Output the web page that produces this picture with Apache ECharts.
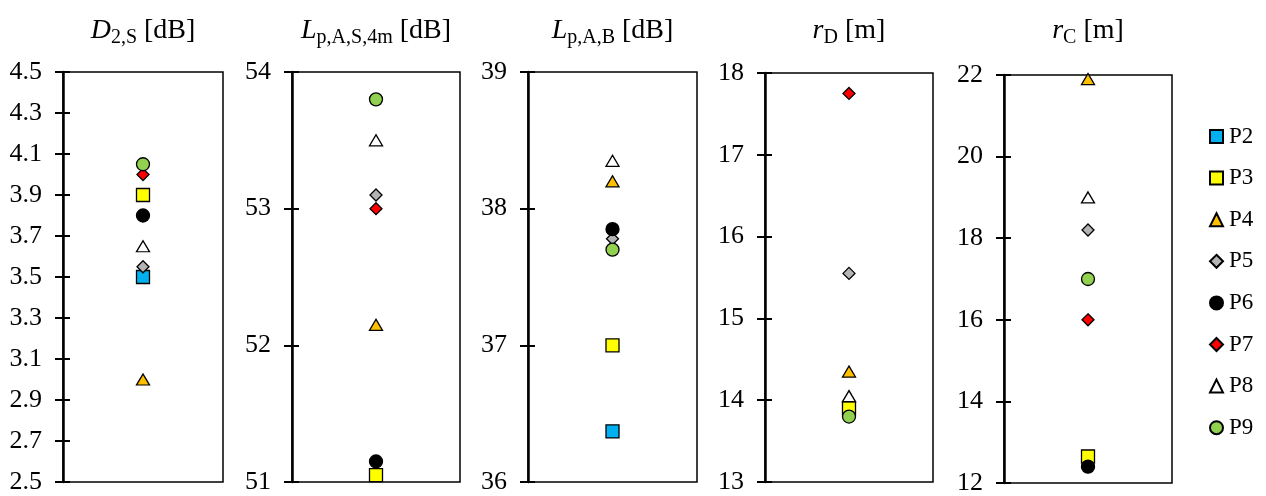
<!DOCTYPE html>
<html>
<head>
<meta charset="utf-8">
<script src="https://cdn.jsdelivr.net/npm/echarts@6/dist/echarts.min.js"></script>
<style>
  html, body { margin: 0; padding: 0; background: #fff; }
  #chart { width: 1266px; height: 496px; }
</style>
</head>
<body>
<div id="chart"></div>
<script>
// measurement points
const names = ['P2', 'P3', 'P4', 'P5', 'P6', 'P7', 'P8', 'P9'];

// one value per point, null = not shown in the panel
const d2s = [3.5, 3.9, 3.0, 3.55, 3.8, 4.0, 3.65, 4.05];
const lpAS4m = [null, 51.05, 52.15, 53.1, 51.15, 53.0, 53.5, 53.8];
const lpAB = [36.37, 37.0, 38.2, 37.78, 37.85, null, 38.35, 37.7];
const rD = [null, 13.9, 14.35, 15.55, null, 17.75, 14.05, 13.8];
const rC = [null, 12.65, 21.9, 18.2, 12.4, 16.0, 19.0, 17.0];

// tick labels per panel
const d2sTicks = [2.5, 2.7, 2.9, 3.1, 3.3, 3.5, 3.7, 3.9, 4.1, 4.3, 4.5];
const lpAS4mTicks = [51, 52, 53, 54];
const lpABTicks = [36, 37, 38, 39];
const rDTicks = [13, 14, 15, 16, 17, 18];
const rCTicks = [12, 14, 16, 18, 20, 22];

const serif = '"Liberation Serif", "DejaVu Serif", serif';

const markers = [
  { symbol: 'rect', color: '#00B0F0' },
  { symbol: 'rect', color: '#FFFF00' },
  { symbol: 'triangle', color: '#FFC000' },
  { symbol: 'diamond', color: '#B4B4B4' },
  { symbol: 'circle', color: '#000000' },
  { symbol: 'diamond', color: '#FF0000' },
  { symbol: 'triangle', color: '#FFFFFF' },
  { symbol: 'circle', color: '#92D050' }
];

const panels = [
  { values: d2s, ticks: d2sTicks, digits: 1, main: 'D', sub: '2,S', unit: ' [dB]',
    left: 63, top: 72, width: 160, height: 410 },
  { values: lpAS4m, ticks: lpAS4mTicks, digits: 0, main: 'L', sub: 'p,A,S,4m', unit: ' [dB]',
    left: 292, top: 72, width: 168, height: 410 },
  { values: lpAB, ticks: lpABTicks, digits: 0, main: 'L', sub: 'p,A,B', unit: ' [dB]',
    left: 528, top: 72, width: 169, height: 410 },
  { values: rD, ticks: rDTicks, digits: 0, main: 'r', sub: 'D', unit: ' [m]',
    left: 765, top: 73, width: 168, height: 409 },
  { values: rC, ticks: rCTicks, digits: 0, main: 'r', sub: 'C', unit: ' [m]',
    left: 1004, top: 75, width: 168, height: 409 }
];

let grids = [], xAxes = [], yAxes = [], titles = [], series = [];

panels.forEach((p, i) => {
  const lo = p.ticks[0], hi = p.ticks[p.ticks.length - 1];
  grids.push({
    left: p.left, top: p.top, width: p.width, height: p.height,
    show: true, borderColor: '#000', borderWidth: 1.5, backgroundColor: '#fff'
  });
  xAxes.push({ gridIndex: i, type: 'category', data: ['x'], show: false });
  // main axis: outer ticks + labels
  yAxes.push({
    gridIndex: i, type: 'value', position: 'left', min: lo, max: hi,
    splitLine: { show: false },
    axisLine: { show: true, lineStyle: { color: '#000', width: 2.5 } },
    axisTick: { show: true, inside: false, length: 8, customValues: p.ticks,
      lineStyle: { color: '#000', width: 2 } },
    axisLabel: {
      show: true, customValues: p.ticks, margin: 21,
      color: '#000', fontFamily: serif, fontSize: 26,
      formatter: v => Number(v).toFixed(p.digits)
    }
  });
  // helper axis: inner half of the crossing ticks
  yAxes.push({
    gridIndex: i, type: 'value', position: 'left', min: lo, max: hi,
    splitLine: { show: false },
    axisLine: { show: false },
    axisTick: { show: true, inside: true, length: 7, customValues: p.ticks,
      lineStyle: { color: '#000', width: 2 } },
    axisLabel: { show: false }
  });
  titles.push({
    left: p.left + p.width / 2 - 5, top: 9, textAlign: 'center',
    text: '{i|' + p.main + '}{s|' + p.sub + '}{n|' + p.unit + '}',
    textStyle: {
      fontWeight: 'normal',
      rich: {
        i: { fontFamily: serif, fontSize: 28, fontStyle: 'italic', fontWeight: 'normal', color: '#000', lineHeight: 34 },
        s: { fontFamily: serif, fontSize: 20, fontWeight: 'normal', color: '#000', lineHeight: 23, verticalAlign: 'bottom' },
        n: { fontFamily: serif, fontSize: 28, fontWeight: 'normal', color: '#000', lineHeight: 34 }
      }
    }
  });
});

names.forEach((name, k) => {
  panels.forEach((p, i) => {
    const v = p.values[k];
    series.push({
      name: name, type: 'scatter',
      xAxisIndex: i, yAxisIndex: i * 2,
      symbol: markers[k].symbol,
      symbolSize: markers[k].symbol === 'triangle' ? [13, 11] : (markers[k].symbol === 'diamond' ? [12, 12] : 13),
      itemStyle: { color: markers[k].color, borderColor: '#000', borderWidth: 1.3, opacity: 1 },
      data: v == null ? [] : [['x', v]],
      z: 2 + k
    });
  });
});

const chart = echarts.init(document.getElementById('chart'), null, { renderer: 'canvas' });
chart.setOption({
  animation: false,
  backgroundColor: '#fff',
  title: titles,
  grid: grids,
  xAxis: xAxes,
  yAxis: yAxes,
  legend: {
    orient: 'vertical', left: 1204, top: 120,
    itemWidth: 13, itemHeight: 13, itemGap: 18.6,
    textStyle: { fontFamily: serif, fontSize: 23, color: '#000', padding: [0, 0, 0, 1] },
    data: names
  },
  series: series
});
</script>
</body>
</html>
